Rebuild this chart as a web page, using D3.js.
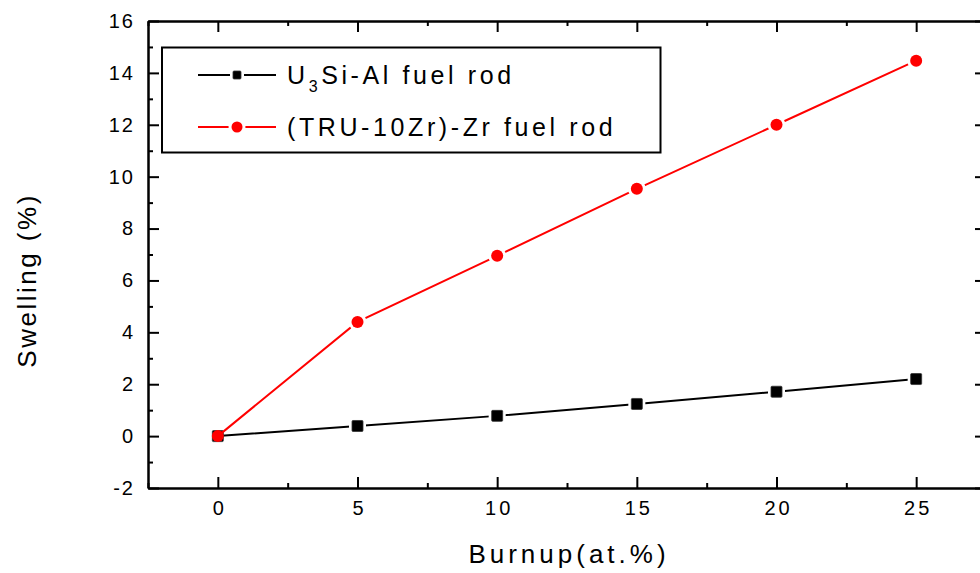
<!DOCTYPE html>
<html>
<head>
<meta charset="utf-8">
<script src="https://cdn.jsdelivr.net/npm/d3@7"></script>
<style>
  body { margin: 0; background: #fff; }
  svg, svg text { font-family: "Liberation Sans", Arial, sans-serif; }
</style>
</head>
<body>
<div class="chart-container"></div>
<script>
const burnup = [0, 5, 10, 15, 20, 25];
const u3siAl = [0, 0.39, 0.78, 1.24, 1.71, 2.2];
const truZr = [0, 4.4, 6.95, 9.53, 12.0, 14.47];
const xTicks = [0, 5, 10, 15, 20, 25];
const yTicks = [-2, 0, 2, 4, 6, 8, 10, 12, 14, 16];

const w = 980;
const h = 573;
const margin = { left: 148, right: -6, top: 21, bottom: 85 };

const svg = d3.select(".chart-container")
    .append("svg")
    .attr("width", w)
    .attr("height", h);

const xScale = d3.scaleLinear()
    .domain([-2.5, 27.5])
    .range([margin.left, w - margin.right]);

const yScale = d3.scaleLinear()
    .domain([-2, 16])
    .range([h - margin.bottom, margin.top]);

const xMinor = d3.range(-2.5, 27.6, 5);
const yMinor = d3.range(-1, 16, 2);

// axes, ticks pointing inward
const axisStyle = (g) => {
    g.attr("font-family", null);
    g.select(".domain").attr("stroke-width", 2);
    g.selectAll(".tick line").attr("stroke-width", 2);
};

svg.append("g")
    .attr("transform", `translate(0,${yScale(-2)})`)
    .call(d3.axisBottom(xScale).tickValues(xTicks).tickSizeInner(-11).tickSizeOuter(0).tickPadding(13).tickFormat(d => String(d)))
    .call(axisStyle)
    .call(g => g.selectAll(".tick text")
        .attr("font-size", 20).attr("letter-spacing", 3).attr("dx", 1.5).attr("fill", "#000"));

svg.append("g")
    .attr("transform", `translate(0,${yScale(-2)})`)
    .call(d3.axisBottom(xScale).tickValues(xMinor).tickSizeInner(-5).tickSizeOuter(0).tickFormat(""))
    .call(axisStyle);

svg.append("g")
    .attr("transform", `translate(0,${yScale(16)})`)
    .call(d3.axisTop(xScale).tickValues(xTicks).tickSizeInner(-11).tickSizeOuter(0).tickFormat(""))
    .call(axisStyle);

svg.append("g")
    .attr("transform", `translate(0,${yScale(16)})`)
    .call(d3.axisTop(xScale).tickValues(xMinor).tickSizeInner(-5).tickSizeOuter(0).tickFormat(""))
    .call(axisStyle);

svg.append("g")
    .attr("transform", `translate(${xScale(-2.5)},0)`)
    .call(d3.axisLeft(yScale).tickValues(yTicks).tickSizeInner(-11).tickSizeOuter(0).tickPadding(13).tickFormat(d => String(d)))
    .call(axisStyle)
    .call(g => g.selectAll(".tick text")
        .attr("font-size", 20).attr("letter-spacing", 2).attr("fill", "#000"));

svg.append("g")
    .attr("transform", `translate(${xScale(-2.5)},0)`)
    .call(d3.axisLeft(yScale).tickValues(yMinor).tickSizeInner(-5).tickSizeOuter(0).tickFormat(""))
    .call(axisStyle);

svg.append("g")
    .attr("transform", `translate(${xScale(27.5)},0)`)
    .call(d3.axisRight(yScale).tickValues(yTicks).tickSizeInner(-11).tickSizeOuter(0).tickFormat(""))
    .call(axisStyle);

svg.append("g")
    .attr("transform", `translate(${xScale(27.5)},0)`)
    .call(d3.axisRight(yScale).tickValues(yMinor).tickSizeInner(-5).tickSizeOuter(0).tickFormat(""))
    .call(axisStyle);

// axis titles
svg.append("text")
    .attr("x", xScale(12.5) + 2)
    .attr("y", 563)
    .attr("text-anchor", "middle")
    .attr("font-size", 26)
    .attr("letter-spacing", 4)
    .text("Burnup(at.%)");

svg.append("text")
    .attr("transform", `translate(36,${yScale(6)}) rotate(-90)`)
    .attr("text-anchor", "middle")
    .attr("font-size", 26)
    .attr("letter-spacing", 2.5)
    .text("Swelling (%)");

// series
const line = d3.line()
    .x((d, i) => xScale(burnup[i]))
    .y(d => yScale(d));

const drawMarker = (g, type, color, x, y, size, gap) => {
    if (type === "square") {
        if (gap) g.append("rect")
            .attr("x", x - size / 2 - 3).attr("y", y - size / 2 - 3)
            .attr("width", size + 6).attr("height", size + 6)
            .attr("fill", "#fff");
        g.append("rect")
            .attr("x", x - size / 2).attr("y", y - size / 2)
            .attr("width", size).attr("height", size)
            .attr("fill", color)
            .attr("stroke", "#333").attr("stroke-width", 0.8)
            .attr("rx", 1);
    } else {
        if (gap) g.append("circle")
            .attr("cx", x).attr("cy", y).attr("r", size / 2 + 3)
            .attr("fill", "#fff");
        g.append("circle")
            .attr("cx", x).attr("cy", y).attr("r", size / 2)
            .attr("fill", color);
    }
};

const series = [
    { values: u3siAl, color: "#000", marker: "square", size: 11 },
    { values: truZr, color: "#ff0000", marker: "circle", size: 12 }
];

series.forEach(s => {
    svg.append("path")
        .datum(s.values)
        .attr("fill", "none")
        .attr("stroke", s.color)
        .attr("stroke-width", 2)
        .attr("d", line);
    const g = svg.append("g");
    s.values.forEach((v, i) => {
        drawMarker(g, s.marker, s.color, xScale(burnup[i]), yScale(v), s.size, i > 0);
    });
});

// legend
const legend = svg.append("g");
legend.append("rect")
    .attr("x", 162).attr("y", 47.5)
    .attr("width", 498.5).attr("height", 105)
    .attr("fill", "#fff")
    .attr("stroke", "#000")
    .attr("stroke-width", 2);

const legendRows = [
    { label: ["U", "3", "Si-Al fuel rod"], color: "#000", marker: "square", y: 75 },
    { label: ["(TRU-10Zr)-Zr fuel rod"], color: "#ff0000", marker: "circle", y: 127 }
];

legendRows.forEach(r => {
    legend.append("line")
        .attr("x1", 198).attr("x2", 276)
        .attr("y1", r.y).attr("y2", r.y)
        .attr("stroke", r.color).attr("stroke-width", 2);
    drawMarker(legend, r.marker, r.color, 237, r.y, r.marker === "square" ? 8 : 11, true);
    const t = legend.append("text")
        .attr("x", 287).attr("y", r.y + 9)
        .attr("font-size", 25)
        .attr("letter-spacing", 3.6);
    if (r.label.length === 3) {
        t.append("tspan").text(r.label[0]);
        t.append("tspan").attr("font-size", 16).attr("dy", 8).text(r.label[1]);
        t.append("tspan").attr("dy", -8).text(r.label[2]);
    } else {
        t.text(r.label[0]);
    }
});
</script>
</body>
</html>
